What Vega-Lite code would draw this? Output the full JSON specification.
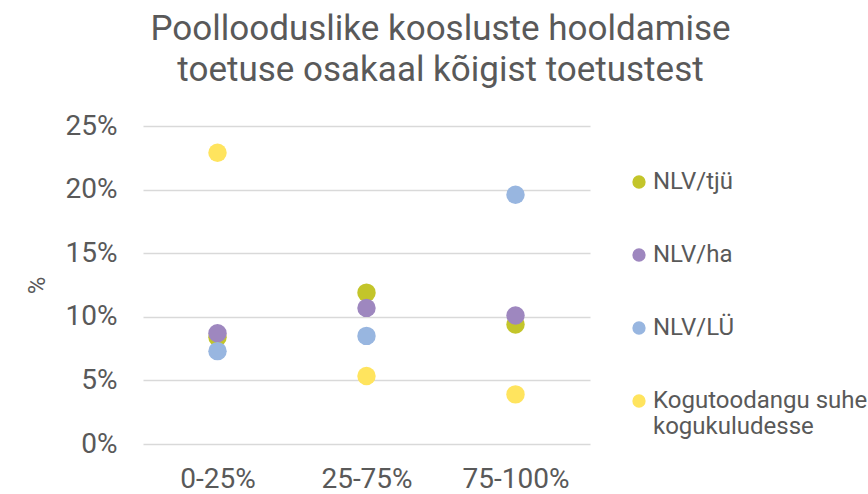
{
  "$schema": "https://vega.github.io/schema/vega-lite/v6.json",
  "autosize": {"type": "none"},
  "width": 447,
  "height": 318,
  "padding": {"left": 143, "top": 126, "right": 278, "bottom": 50},
  "background": "white",
  "config": {
    "font": "Roboto",
    "view": {"stroke": null},
    "legend": {"padding": 0}
  },
  "title": {
    "text": ["Poollooduslike koosluste hooldamise", "toetuse osakaal kõigist toetustest"],
    "fontSize": 35,
    "fontWeight": "normal",
    "color": "#595959",
    "lineHeight": 41,
    "anchor": "middle",
    "frame": "group",
    "dx": 74,
    "offset": 24
  },
  "data": {
    "values": [
      {"grupp": "0-25%", "seeria": "NLV/tjü", "vaartus": 0.084},
      {"grupp": "25-75%", "seeria": "NLV/tjü", "vaartus": 0.119},
      {"grupp": "75-100%", "seeria": "NLV/tjü", "vaartus": 0.094},
      {"grupp": "0-25%", "seeria": "NLV/ha", "vaartus": 0.087},
      {"grupp": "25-75%", "seeria": "NLV/ha", "vaartus": 0.107},
      {"grupp": "75-100%", "seeria": "NLV/ha", "vaartus": 0.101},
      {"grupp": "0-25%", "seeria": "NLV/LÜ", "vaartus": 0.073},
      {"grupp": "25-75%", "seeria": "NLV/LÜ", "vaartus": 0.085},
      {"grupp": "75-100%", "seeria": "NLV/LÜ", "vaartus": 0.196},
      {"grupp": "0-25%", "seeria": "Kogutoodangu suhe kogukuludesse", "vaartus": 0.229},
      {"grupp": "25-75%", "seeria": "Kogutoodangu suhe kogukuludesse", "vaartus": 0.0535},
      {"grupp": "75-100%", "seeria": "Kogutoodangu suhe kogukuludesse", "vaartus": 0.039}
    ]
  },
  "mark": {"type": "point", "filled": true, "opacity": 1, "size": 340, "shape": "circle"},
  "encoding": {
    "x": {
      "field": "grupp",
      "type": "ordinal",
      "sort": ["0-25%", "25-75%", "75-100%"],
      "scale": {"type": "point", "padding": 0.5},
      "axis": {
        "title": null,
        "labelAngle": 0,
        "labelFontSize": 28,
        "labelColor": "#595959",
        "labelPadding": 21,
        "domain": false,
        "ticks": false,
        "grid": false
      }
    },
    "y": {
      "field": "vaartus",
      "type": "quantitative",
      "scale": {"domain": [0, 0.25], "nice": false},
      "axis": {
        "title": "%",
        "titleFontSize": 24,
        "titleFontWeight": "normal",
        "titleColor": "#595959",
        "titlePadding": 16,
        "values": [0, 0.05, 0.1, 0.15, 0.2, 0.25],
        "format": ".0%",
        "labelFontSize": 28,
        "labelColor": "#595959",
        "labelPadding": 26,
        "domain": false,
        "ticks": false,
        "grid": true,
        "gridColor": "#d9d9d9",
        "gridWidth": 1.5
      }
    },
    "color": {
      "field": "seeria",
      "type": "nominal",
      "scale": {
        "domain": ["NLV/tjü", "NLV/ha", "NLV/LÜ", "Kogutoodangu suhe kogukuludesse"],
        "range": ["#C3C52A", "#9E87BF", "#98B6E0", "#FFE45E"]
      },
      "legend": {
        "title": null,
        "orient": "none",
        "legendX": 484,
        "legendY": 44,
        "symbolType": "circle",
        "symbolSize": 177,
        "symbolOpacity": 1,
        "symbolStrokeWidth": 0,
        "labelFontSize": 24,
        "labelColor": "#595959",
        "labelOffset": 2,
        "labelLimit": 400,
        "labelLineHeight": 29,
        "rowPadding": 49,
        "labelExpr": "datum.label == 'Kogutoodangu suhe kogukuludesse' ? ['Kogutoodangu suhe', 'kogukuludesse'] : datum.label"
      }
    }
  }
}
